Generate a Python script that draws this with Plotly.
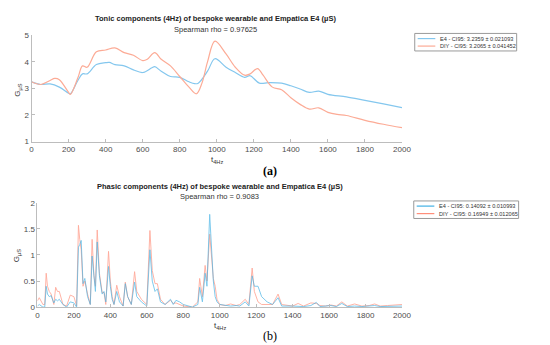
import plotly.graph_objects as go

# ---- Tonic data (a) ----
tonic_x_e4 = [0, 50, 100, 150, 200, 210, 250, 275, 300, 350, 400, 420, 450, 500, 550, 600, 650, 665, 700, 750,
              800, 850, 880, 900, 950, 990, 1050, 1100, 1150, 1180, 1230, 1280, 1350, 1400, 1450, 1500, 1550,
              1600, 1700, 1800, 1900, 2000]
tonic_e4 = [3.25, 3.15, 3.17, 3.05, 2.82, 2.8, 3.3, 3.55, 3.55, 3.9, 3.97, 3.98, 3.9, 3.85, 3.7, 3.6, 3.78, 3.82, 3.65, 3.45,
            3.42, 3.25, 3.18, 3.2, 3.65, 4.12, 3.8, 3.6, 3.42, 3.48, 3.2, 3.22, 3.2, 3.1, 2.98, 2.85, 2.9,
            2.78, 2.68, 2.55, 2.42, 2.28]
tonic_x_diy = [0, 50, 100, 125, 150, 200, 210, 250, 275, 300, 350, 400, 450, 500, 550, 600, 625, 665, 700, 750,
               800, 850, 890, 920, 950, 990, 1050, 1100, 1150, 1180, 1220, 1250, 1300, 1350, 1400, 1450, 1500,
               1550, 1600, 1650, 1700, 1800, 1900, 2000]
tonic_diy = [3.25, 3.15, 3.3, 3.38, 3.33, 2.85, 2.78, 3.4, 3.85, 3.8, 4.38, 4.45, 4.53, 4.35, 4.25, 4.05, 4.1, 4.35, 4.1, 3.85,
             3.45, 3.05, 2.8, 3.2, 4.0, 4.78, 4.3, 3.8, 3.5, 3.55, 3.75, 3.5, 3.05, 2.95, 2.65, 2.4, 2.22,
             2.27, 2.1, 2.02, 1.98, 1.8, 1.65, 1.52]

# ---- Phasic data (b) ----
phasic_x = [0, 10, 30, 40, 48, 55, 65, 75, 90, 100, 110, 120, 140, 160, 180, 200, 215, 225, 232, 240,
            250, 260, 275, 290, 300, 310, 318, 328, 340, 355, 365, 375, 390, 400, 410, 420, 435, 450,
            470, 482, 495, 515, 533, 545, 570, 600, 617, 630, 645, 658, 675, 700, 730, 745, 760, 780, 800,
            850, 880, 890, 905, 920, 930, 945, 955, 965, 975, 985, 1000, 1030, 1060, 1090, 1110, 1140, 1160, 1178,
            1190, 1210, 1230, 1260, 1290, 1320, 1340, 1400, 1430, 1460, 1500, 1530, 1550, 1580, 1610, 1640,
            1670, 1700, 1740, 1780, 1820, 1850, 1880, 1920, 1960, 2000]
phasic_e4 = [0.02, 0.05, 0.0, 0.0, 0.4, 0.25, 0.2, 0.22, 0.08, 0.15, 0.12, 0.15, 0.05, 0.0, 0.1, 0.08, 0.0, 1.15, 1.2, 1.28,
             0.45, 0.55, 0.2, 0.05, 0.98, 0.5, 0.3, 1.25, 0.6, 0.25, 0.3, 0.1, 0.78, 0.4, 0.15, 0.05, 0.3, 0.1,
             0.02, 0.45, 0.2, 0.05, 0.48, 0.2, 0.1, 0.02, 1.1, 0.5, 0.3, 0.35, 0.1, 0.05, 0.15, 0.05, 0.13, 0.1, 0.05,
             0.0, 0.05, 0.38, 0.1, 0.65, 0.4, 1.78, 1.2, 0.5, 0.2, 0.1, 0.05, 0.03, 0.02, 0.03, 0.02, 0.1, 0.02, 0.6,
             0.4, 0.4, 0.2, 0.1, 0.05, 0.18, 0.02, 0.02, 0.02, 0.01, 0.03, 0.09, 0.01, 0.02, 0.03, 0.01,
             0.07, 0.01, 0.02, 0.01, 0.02, 0.03, 0.01, 0.01, 0.02, 0.02]
phasic_diy = [0.12, 0.18, 0.05, 0.05, 0.65, 0.4, 0.3, 0.25, 0.05, 0.38, 0.3, 0.3, 0.05, 0.02, 0.23, 0.2, 0.02, 1.57, 1.3, 1.1,
              0.4, 0.5, 0.25, 0.05, 1.3, 0.6, 0.4, 1.48, 0.65, 0.28, 0.28, 0.05, 1.07, 0.5, 0.2, 0.05, 0.42, 0.2,
              0.02, 0.48, 0.2, 0.05, 0.68, 0.3, 0.15, 0.05, 1.47, 0.7, 0.45, 0.45, 0.15, 0.05, 0.13, 0.07, 0.08, 0.05, 0.02,
              0.0, 0.1, 0.55, 0.2, 0.8, 0.5, 1.4, 1.0, 0.55, 0.4, 0.15, 0.05, 0.03, 0.06, 0.03, 0.05, 0.15, 0.05, 0.75,
              0.3, 0.1, 0.05, 0.05, 0.05, 0.25, 0.05, 0.02, 0.07, 0.02, 0.08, 0.07, 0.03, 0.02, 0.04, 0.02,
              0.1, 0.02, 0.06, 0.02, 0.03, 0.06, 0.02, 0.03, 0.04, 0.05]

tonic_names = ["E4 - CI95: 3.2359 \u00b1 0.021093", "DIY - CI95: 3.2065 \u00b1 0.041452"]
phasic_names = ["E4 - CI95: 0.14092 \u00b1 0.010993", "DIY - CI95: 0.16949 \u00b1 0.012065"]

W, H = 550, 345
def px(x): return x / W
def py(y): return 1 - y / H

BLUE_T = "#84c7ee"
ORANGE_T = "#fcab96"
BLUE_P = "#42b1e4"
ORANGE_P = "#ff8e7a"
FONT = "Liberation Sans, Arial, sans-serif"

fig = go.Figure()
fig.add_trace(go.Scatter(x=tonic_x_e4, y=tonic_e4, mode="lines", name=tonic_names[0],
                         line=dict(color=BLUE_T, width=1.2, shape="spline"), xaxis="x", yaxis="y"))
fig.add_trace(go.Scatter(x=tonic_x_diy, y=tonic_diy, mode="lines", name=tonic_names[1],
                         line=dict(color=ORANGE_T, width=1.2, shape="spline"), xaxis="x", yaxis="y"))
fig.add_trace(go.Scatter(x=phasic_x, y=phasic_diy, mode="lines", name=phasic_names[1],
                         line=dict(color=ORANGE_P, width=0.9), opacity=0.75, xaxis="x2", yaxis="y2"))
fig.add_trace(go.Scatter(x=phasic_x, y=phasic_e4, mode="lines", name=phasic_names[0],
                         line=dict(color=BLUE_P, width=0.9), opacity=0.75, xaxis="x2", yaxis="y2"))

axis_common = dict(showgrid=False, zeroline=False, showline=True, linecolor="#bdbdbd", linewidth=1,
                   ticks="inside", ticklen=3, tickcolor="#bdbdbd",
                   tickfont=dict(family=FONT, size=8, color="#4d4d4d"))

fig.update_layout(
    width=W, height=H, margin=dict(l=0, r=0, t=0, b=0),
    paper_bgcolor="white", plot_bgcolor="white", showlegend=False,
    xaxis=dict(domain=[px(22), px(400)], range=[0, 2000], tickvals=list(range(0, 2001, 200)),
               anchor="y", **axis_common),
    yaxis=dict(domain=[py(133), py(24)], range=[1, 5], tickvals=[1, 2, 3, 4, 5],
               anchor="x", **axis_common),
    xaxis2=dict(domain=[px(28), px(400)], range=[0, 2000], tickvals=list(range(0, 2001, 200)),
                anchor="y2", **axis_common),
    yaxis2=dict(domain=[py(303), py(196)], range=[0, 2], tickvals=[0, 0.5, 1, 1.5, 2],
                ticktext=["0", "0.5", "1", "1.5", "2"], anchor="x2", **axis_common),
)

def ann(text, x, y, size, bold=False, color="#222222", family=FONT, xanchor="center", **kw):
    fig.add_annotation(text=f"<b>{text}</b>" if bold else text, x=px(x), y=py(y), xref="paper", yref="paper",
                       showarrow=False, font=dict(family=family, size=size, color=color),
                       xanchor=xanchor, yanchor="middle", **kw)

def legend_box(x0, y0, x1, y1, rows):
    fig.add_shape(type="rect", xref="paper", yref="paper", x0=px(x0), x1=px(x1), y0=py(y1), y1=py(y0),
                  fillcolor="white", line=dict(color="#9a9a9a", width=1), layer="above")
    for (ry, color, name) in rows:
        fig.add_shape(type="line", xref="paper", yref="paper", x0=px(x0 + 3), x1=px(x0 + 21),
                      y0=py(ry), y1=py(ry), line=dict(color=color, width=1.2), layer="above")
        ann(name, x0 + 24, ry, 5.6, color="#333333", xanchor="left")

legend_box(413, 22, 517, 40, [(27.3, BLUE_T, tonic_names[0]), (35.0, ORANGE_T, tonic_names[1])])
legend_box(412, 194, 519, 212, [(199.3, BLUE_P, phasic_names[0]), (207.0, ORANGE_P, phasic_names[1])])

ann("Tonic components (4Hz) of bespoke wearable and Empatica E4 (\u00b5S)", 210, 7, 7.5, bold=True)
ann("Spearman rho = 0.97625", 210, 18, 7.5, color="#333333")
ann("G<sub>\u00b5S</sub>", 8, 80, 8, color="#333333", textangle=-90)
ann("t<sub>4Hz</sub>", 211, 152, 8, color="#333333")
ann("(a)", 265, 163, 12, bold=True, family="Liberation Serif, Times New Roman, serif", color="#000000")

ann("Phasic components (4Hz) of bespoke wearable and Empatica E4 (\u00b5S)", 214, 179, 7.5, bold=True)
ann("Spearman rho = 0.9083", 214, 189, 7.5, color="#333333")
ann("G<sub>\u00b5S</sub>", 8, 250, 8, color="#333333", textangle=-90)
ann("t<sub>4Hz</sub>", 214, 322, 8, color="#333333")
ann("(b)", 265, 333, 12, bold=False, family="Liberation Serif, Times New Roman, serif", color="#000000")

fig.write_html("out.html")
